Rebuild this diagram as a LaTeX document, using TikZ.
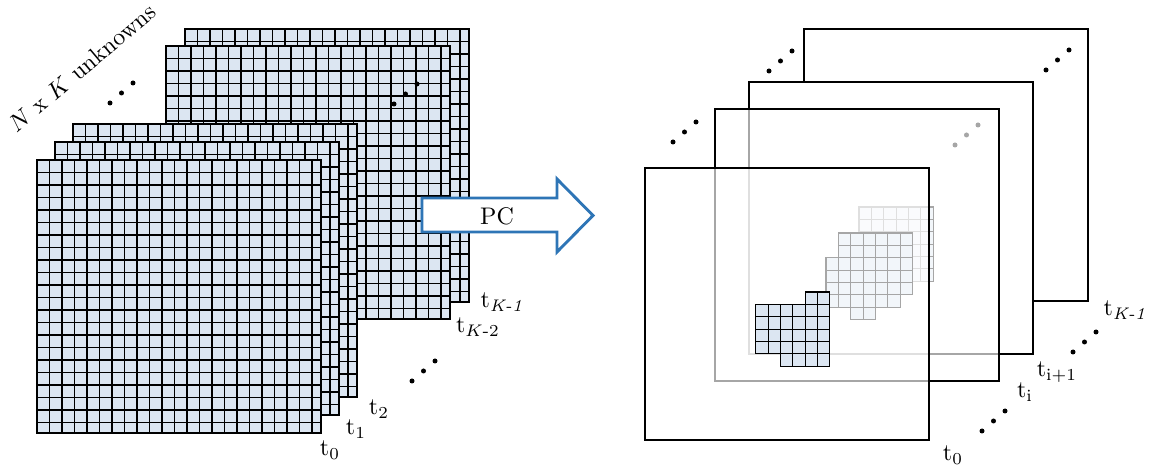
\documentclass[tikz,border=0pt]{standalone}
\usepackage{mathtools}
\usepackage{tikz}

\definecolor{cellblue}{RGB}{220,230,242}
\definecolor{pcblue}{RGB}{46,117,182}

% full snapshot: corner x, y (px)
\newcommand{\gridframe}[2]{%
  \fill[cellblue] (#1,#2) rectangle ++(284,273);
  \foreach \i in {1,...,22} \draw[cellline] ({#1+\i*12.5},#2) -- ++(0,273);
  \foreach \j in {1,...,21} \draw[cellline] (#1,{#2+\j*12.5}) -- ++(284,0);
  \draw[frameline] (#1,#2) rectangle ++(284,273);
}
% empty snapshot: corner x, y, fill opacity
\newcommand{\openframe}[3]{%
  \filldraw[frameline,fill=white,fill opacity=#3] (#1,#2) rectangle ++(284,272);
}
% local patch of cells: origin x, y, list of col/row
\newcommand{\cellpatch}[3]{%
  \foreach \cx/\cy in {#3}
    \draw[cellline,fill=cellblue] ({#1+\cx*12.35},{#2+\cy*12.35}) rectangle ++(12.35,12.35);
}
\newcommand{\dotrow}[2]{%
  \foreach \k in {0,1,2} \fill ({#1+\k*11.5},{#2-\k*10}) circle (2.5);
}

\begin{document}
\begin{tikzpicture}[x=0.014644cm,y=-0.014644cm,
  cellline/.style={line width=0.45pt,draw=black},
  frameline/.style={line width=1.2pt,draw=black},
  tlabel/.style={inner sep=0pt}]
\useasboundingbox (0,0) rectangle (1155,468);

% left: all unknowns
\gridframe{185}{29}
\gridframe{166}{46}
\gridframe{73}{124}
\gridframe{55}{142}
\gridframe{37}{160}
\dotrow{110}{103}
\dotrow{394}{104}
\dotrow{412}{381}

\node[rotate=40] (unk) at (82,68) {$N$ x $K$ unknowns};
\node[tlabel] (l0) at (330,450) {t$_0$};
\node[tlabel] (l1) at (356,429) {t$_1$};
\node[tlabel] (l2) at (379,409) {t$_2$};
\node[tlabel] (lk2) at (478,327) {t$_{K\text{-2}}$};
\node[tlabel] (lk1) at (502,302) {t$_{\textit{K-1}}$};

% arrow
\filldraw[line width=1.2pt,draw=pcblue,fill=white]
  (422,198) -- (557,198) -- (557,179) -- (593,215.5) -- (557,252) -- (557,232) -- (422,232) -- cycle;
\node (pc) at (497,216) {PC};

% right: local patches
\openframe{804}{29}{1}
\dotrow{1046}{70}
\openframe{749}{82}{1}
\cellpatch{859}{207}{0/0,1/0,2/0,3/0,4/0,5/0,0/1,1/1,2/1,3/1,4/1,5/1,0/2,1/2,2/2,3/2,4/2,5/2,
  0/3,1/3,2/3,3/3,4/3,5/3,0/4,1/4,2/4,3/4,4/4,5/4,0/5,1/5,2/5,3/5,4/5,5/5}
\dotrow{955}{145}
\openframe{715}{109}{0.65}
\cellpatch{826}{233}{1/0,2/0,3/0,4/0,5/0,6/0,1/1,2/1,3/1,4/1,5/1,6/1,
  0/2,1/2,2/2,3/2,4/2,5/2,6/2,0/3,1/3,2/3,3/3,4/3,5/3,6/3,0/4,1/4,2/4,3/4,4/4,5/4,6/4,
  0/5,1/5,2/5,3/5,4/5,5/5,2/6,3/6}
\openframe{645}{168}{0.65}
\cellpatch{755.7}{292}{4/0,5/0,0/1,1/1,2/1,3/1,4/1,5/1,0/2,1/2,2/2,3/2,4/2,5/2,
  0/3,1/3,2/3,3/3,4/3,5/3,0/4,1/4,2/4,3/4,4/4,5/4,2/5,3/5,4/5,5/5}
\dotrow{673}{142}
\dotrow{769}{71}
\dotrow{982}{431}
\dotrow{1073}{352}

\node[tlabel] (r0) at (953,455) {t$_0$};
\node[tlabel] (ri) at (1025,392) {t$_\mathrm{i}$};
\node[tlabel] (ri1) at (1057,372) {t$_\mathrm{i+1}$};
\node[tlabel] (rk1) at (1125,310) {t$_{\textit{K-1}}$};
\end{tikzpicture}
\end{document}
